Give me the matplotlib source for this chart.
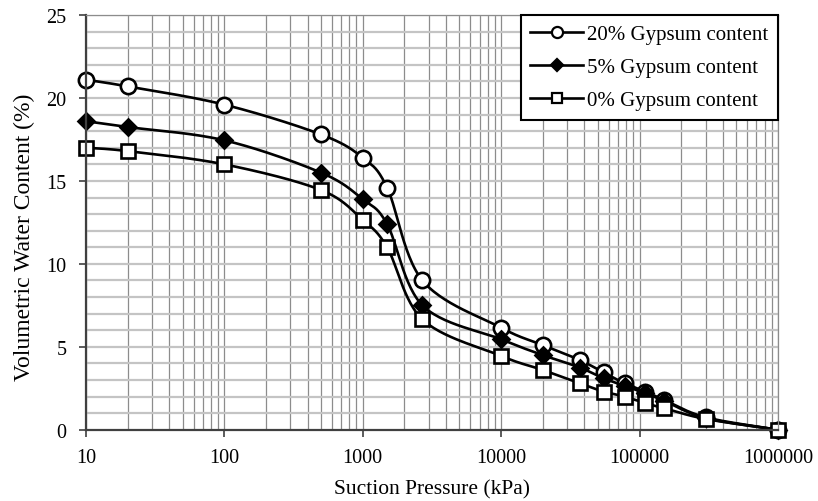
import numpy as np
import matplotlib
matplotlib.use("Agg")
import matplotlib.pyplot as plt
from matplotlib.ticker import FixedLocator, FuncFormatter, NullLocator

plt.rcParams["font.family"] = ["Liberation Serif", "DejaVu Serif"]

# --- data ---
suction = [10, 20, 100, 500, 1000, 1500, 2700, 10000, 20000, 37000, 55000,
           78000, 110000, 150000, 300000, 1000000]
gyp20 = [21.1, 20.7, 19.6, 17.8, 16.4, 14.6, 9.0, 6.15, 5.1, 4.2, 3.45,
         2.8, 2.3, 1.8, 0.75, 0.0]
gyp5 = [18.6, 18.25, 17.45, 15.5, 13.9, 12.4, 7.5, 5.45, 4.5, 3.75, 3.1,
        2.65, 2.2, 1.75, 0.7, 0.0]
gyp0 = [17.0, 16.8, 16.0, 14.45, 12.65, 11.0, 6.65, 4.45, 3.6, 2.8, 2.3,
        2.0, 1.6, 1.3, 0.65, 0.0]
labels = ["20% Gypsum content", "5% Gypsum content", "0% Gypsum content"]
x_ticks = [10, 100, 1000, 10000, 100000, 1000000]
y_ticks = [0, 5, 10, 15, 20, 25]


def smooth(xs, ys, n=30):
    # excel-like smoothed line: catmull-rom bezier in (log x, y)
    u = np.log10(np.asarray(xs, float))
    v = np.asarray(ys, float)
    pts = np.column_stack([u, v])
    pts = np.vstack([pts[0], pts, pts[-1]])
    out = []
    t = np.linspace(0, 1, n)[:, None]
    for i in range(1, len(pts) - 2):
        p0, p3 = pts[i], pts[i + 1]
        p1 = p0 + (pts[i + 1] - pts[i - 1]) / 6
        p2 = p3 - (pts[i + 2] - pts[i]) / 6
        seg = ((1 - t) ** 3) * p0 + 3 * ((1 - t) ** 2) * t * p1 \
            + 3 * (1 - t) * t ** 2 * p2 + t ** 3 * p3
        out.append(seg if i == 1 else seg[1:])
    out = np.vstack(out)
    return 10 ** out[:, 0], out[:, 1]


fig = plt.figure(figsize=(8.18, 5.02), dpi=100)
ax = fig.add_axes([0.105, 0.142, 0.846, 0.826])

ax.set_xscale("log")
ax.set_xlim(10, 1000000)
ax.set_ylim(0, 25)

# grid
minor_x = [m * 10 ** e for e in range(1, 6) for m in range(2, 10)]
for xv in minor_x + x_ticks:
    ax.axvline(xv, color="#8c8c8c", lw=0.9, zorder=0)
for yv in range(1, 26):
    ax.axhline(yv, color="#c4c4c4", lw=1.6, zorder=0)

styles = [
    dict(marker="o", ms=11, mfc="white", lms=8),
    dict(marker="D", ms=8, mfc="black", lms=6.5),
    dict(marker="s", ms=10.5, mfc="white", lms=7.5),
]
for ys, lab, st in zip([gyp20, gyp5, gyp0], labels, styles):
    sx, sy = smooth(suction, ys)
    ax.plot(sx, sy, color="black", lw=1.9, zorder=3, clip_on=False)
    ax.plot(suction, ys, ls="none", mec="black", mew=1.9, zorder=4,
            clip_on=False, marker=st["marker"], ms=st["ms"], mfc=st["mfc"])
    # proxy for legend
    ax.plot([], [], color="black", lw=1.9, mec="black", mew=1.6,
            label=lab, marker=st["marker"], mfc=st["mfc"], ms=st["lms"])

ax.xaxis.set_major_locator(FixedLocator(x_ticks))
ax.xaxis.set_minor_locator(NullLocator())
ax.xaxis.set_major_formatter(FuncFormatter(lambda v, p: f"{int(round(v))}"))
ax.yaxis.set_major_locator(FixedLocator(y_ticks))

ax.tick_params(axis="both", which="major", direction="out", length=5,
               width=1.2, color="#404040", labelsize=14.5)
ax.tick_params(axis="x", pad=8)
ax.tick_params(axis="y", pad=9)

for side in ["left", "bottom"]:
    ax.spines[side].set_color("#404040")
    ax.spines[side].set_linewidth(1.6)
for side in ["top", "right"]:
    ax.spines[side].set_color("#8c8c8c")
    ax.spines[side].set_linewidth(0.9)
for s in ax.spines.values():
    s.set_zorder(5)

ax.set_xlabel("Suction Pressure (kPa)", fontsize=15.5, labelpad=9)
ax.set_ylabel("Volumetric Water Content (%)", fontsize=17, labelpad=8)
ax.yaxis.label.set_y(0.467)

leg = ax.legend(loc="upper right", bbox_to_anchor=(1.0, 1.0), fontsize=15,
                frameon=True, fancybox=False, framealpha=1, edgecolor="black",
                handlelength=2.55, handletextpad=0.2, borderpad=0.45,
                labelspacing=0.65, borderaxespad=0)
leg.get_frame().set_linewidth(1.5)
leg.set_zorder(6)

fig.savefig("out.png", dpi=100)
